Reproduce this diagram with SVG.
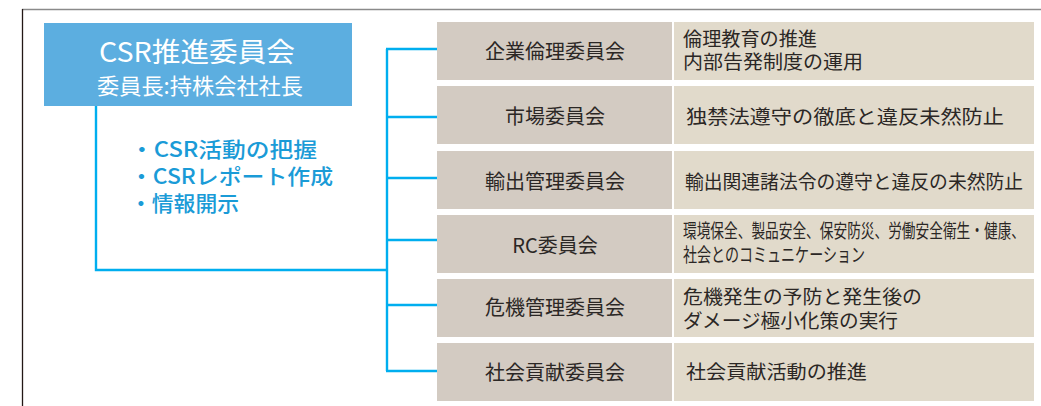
<svg xmlns="http://www.w3.org/2000/svg" width="1041" height="406" viewBox="0 0 1041 406">
<style>
.jp{font-family:"Noto Sans CJK JP","Noto Sans",sans-serif}
.lab{fill:#d3cbc2}
.desc{fill:#e1dacb}
.lt{font-size:20px;fill:#2b2725;text-anchor:middle}
.dt{font-size:19px;fill:#2b2725}
.con{stroke:#00aeef;stroke-width:2.4;fill:none}
.bl{font-size:21px;fill:#1a9bd7;font-weight:500}
</style>
<rect width="1041" height="406" fill="#ffffff"/>
<line x1="22" y1="9.5" x2="1041" y2="9.5" stroke="#8a8a8a" stroke-width="1.5"/>
<line x1="22.5" y1="9" x2="22.5" y2="406" stroke="#231815" stroke-width="1.3"/>
<g id="connectors">
<polyline class="con" points="96,106 96,270 387,270"/>
<line class="con" x1="387" y1="49" x2="387" y2="371"/>
<line class="con" x1="386" y1="49" x2="437" y2="49"/>
<line class="con" x1="386" y1="117" x2="437" y2="117"/>
<line class="con" x1="386" y1="178" x2="437" y2="178"/>
<line class="con" x1="386" y1="240" x2="437" y2="240"/>
<line class="con" x1="386" y1="305" x2="437" y2="305"/>
<line class="con" x1="386" y1="371" x2="437" y2="371"/>
</g>
<g id="csr" class="jp">
<rect x="44" y="23" width="308" height="83" fill="#5caee0"/>
<text x="99" y="62" font-size="27" fill="#ffffff" textLength="196" lengthAdjust="spacingAndGlyphs">CSR推進委員会</text>
<text x="97" y="94" font-size="22" fill="#ffffff" textLength="206" lengthAdjust="spacingAndGlyphs">委員長:持株会社社長</text>
</g>
<g id="tasks" class="jp bl">
<text x="130" y="157" textLength="187" lengthAdjust="spacingAndGlyphs">・CSR活動の把握</text>
<text x="130" y="184" textLength="203" lengthAdjust="spacingAndGlyphs">・CSRレポート作成</text>
<text x="130" y="211" textLength="109" lengthAdjust="spacingAndGlyphs">・情報開示</text>
</g>
<g id="row1" class="jp">
<rect class="lab" x="437" y="22" width="235" height="58"/>
<rect class="desc" x="674" y="22" width="360" height="58"/>
<text class="lt" x="555" y="59">企業倫理委員会</text>
<text class="dt" x="683" y="46" textLength="134" lengthAdjust="spacingAndGlyphs">倫理教育の推進</text>
<text class="dt" x="683" y="69" textLength="180" lengthAdjust="spacingAndGlyphs">内部告発制度の運用</text>
</g>
<g id="row2" class="jp">
<rect class="lab" x="437" y="86" width="235" height="58"/>
<rect class="desc" x="674" y="86" width="360" height="58"/>
<text class="lt" x="555" y="124">市場委員会</text>
<text class="dt" x="686" y="124" font-size="21" textLength="318" lengthAdjust="spacingAndGlyphs">独禁法遵守の徹底と違反未然防止</text>
</g>
<g id="row3" class="jp">
<rect class="lab" x="437" y="151" width="235" height="58"/>
<rect class="desc" x="674" y="151" width="360" height="58"/>
<text class="lt" x="555" y="189">輸出管理委員会</text>
<text class="dt" x="685" y="189" textLength="338" lengthAdjust="spacingAndGlyphs">輸出関連諸法令の遵守と違反の未然防止</text>
</g>
<g id="row4" class="jp">
<rect class="lab" x="437" y="215" width="235" height="58"/>
<rect class="desc" x="674" y="215" width="360" height="58"/>
<text class="lt" x="555" y="253">RC委員会</text>
<text class="dt" x="683" y="238" font-size="17" textLength="342" lengthAdjust="spacingAndGlyphs">環境保全、製品安全、保安防災、労働安全衛生・健康、</text>
<text class="dt" x="683" y="262" font-size="17" textLength="182" lengthAdjust="spacingAndGlyphs">社会とのコミュニケーション</text>
</g>
<g id="row5" class="jp">
<rect class="lab" x="437" y="279" width="235" height="58"/>
<rect class="desc" x="674" y="279" width="360" height="58"/>
<text class="lt" x="555" y="315">危機管理委員会</text>
<text class="dt" x="683" y="304" textLength="239" lengthAdjust="spacingAndGlyphs">危機発生の予防と発生後の</text>
<text class="dt" x="683" y="328" textLength="215" lengthAdjust="spacingAndGlyphs">ダメージ極小化策の実行</text>
</g>
<g id="row6" class="jp">
<rect class="lab" x="437" y="343" width="235" height="58"/>
<rect class="desc" x="674" y="343" width="360" height="58"/>
<text class="lt" x="555" y="380">社会貢献委員会</text>
<text class="dt" x="686" y="379" textLength="181" lengthAdjust="spacingAndGlyphs">社会貢献活動の推進</text>
</g>
</svg>
